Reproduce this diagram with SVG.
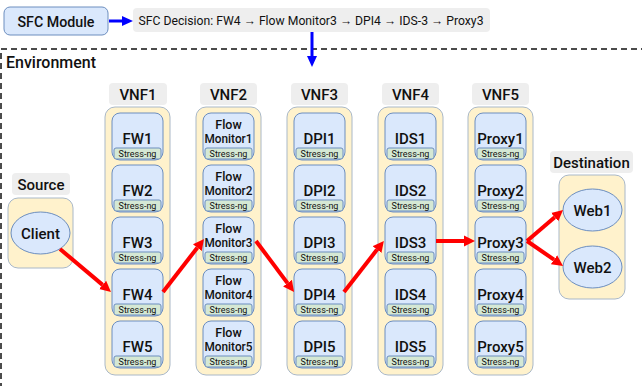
<svg xmlns="http://www.w3.org/2000/svg" width="642" height="386" viewBox="0 0 642 386">
<style>
text{font-family:Roboto,"Liberation Sans",Arial,sans-serif;font-weight:500;fill:#111;text-anchor:middle}
.lbl{fill:#eeeeee;stroke:none}
.cont{fill:#fff2cc;stroke:#a9b8c8;stroke-width:1}
.node{fill:#dae8fc;stroke:#6c8ebf;stroke-width:1}
.sng{fill:#d5e8d4;stroke:#6c8ebf;stroke-width:1}
.t15{font-size:15px}
.t13{font-size:12.5px}
.ts{font-size:9px;font-weight:400}
.red{stroke:#ff0000;stroke-width:4;fill:none;marker-end:url(#ra)}
.blue{stroke:#0000ff;stroke-width:3;fill:none;marker-end:url(#ba)}
</style>
<defs>
<marker id="ra" markerUnits="userSpaceOnUse" markerWidth="12" markerHeight="12" refX="0" refY="6" orient="auto"><path d="M0,0.5 L11,6 L0,11.5 z" fill="#ff0000"/></marker>
<marker id="ba" markerUnits="userSpaceOnUse" markerWidth="12" markerHeight="12" refX="0" refY="6" orient="auto"><path d="M0,1 L11,6 L0,11 z" fill="#0000ff"/></marker>
</defs>
<rect width="642" height="386" fill="#ffffff"/>

<g id="environment">
<rect x="1" y="49" width="660" height="360" fill="none" stroke="#111" stroke-width="1.5" stroke-dasharray="6,4"/>
<text x="6" y="68" style="font-size:17px;text-anchor:start" textLength="90" lengthAdjust="spacingAndGlyphs">Environment</text>
</g>

<g id="sfc-module">
<rect x="4" y="7" width="104" height="28" rx="6" fill="#dae8fc" stroke="#6c8ebf"/>
<text x="56" y="26.5" class="t15" textLength="77" lengthAdjust="spacingAndGlyphs">SFC Module</text>
</g>
<g id="sfc-decision">
<rect x="133" y="8" width="357" height="24" rx="4" class="lbl"/>
<text x="311" y="24.5" style="font-size:12.5px;font-weight:400" textLength="345" lengthAdjust="spacingAndGlyphs">SFC Decision: FW4 → Flow Monitor3 → DPI4 → IDS-3 → Proxy3</text>
</g>

<g id="source">
<rect x="12" y="173" width="58" height="22" rx="4" class="lbl"/>
<text x="41" y="190" class="t15">Source</text>
<rect x="8" y="198" width="65" height="70" rx="10" class="cont"/>
<ellipse cx="40.5" cy="233" rx="29.5" ry="21" class="node"/>
<text x="40.5" y="238.5" class="t15">Client</text>
</g>

<g id="destination">
<rect x="550" y="151" width="83" height="22" rx="4" class="lbl"/>
<text x="591.5" y="167.5" class="t15">Destination</text>
<rect x="559" y="175" width="66" height="124" rx="10" class="cont"/>
<ellipse cx="592.5" cy="210" rx="29.5" ry="21" class="node"/>
<text x="592.5" y="215.5" class="t15">Web1</text>
<ellipse cx="592.5" cy="267" rx="29.5" ry="21" class="node"/>
<text x="592.5" y="272.5" class="t15">Web2</text>
</g>

<g id="vnf1">
<rect x="109" y="83" width="58" height="22" rx="4" class="lbl"/>
<text x="138" y="99.5" class="t15">VNF1</text>
<rect x="105" y="107" width="65" height="268" rx="10" class="cont"/>
<g id="fw1"><rect x="112" y="113" width="51" height="47" rx="8" class="node"/><text x="137.5" y="144" class="t15">FW1</text><rect x="114" y="148" width="47" height="11" rx="2" class="sng"/><text x="137.5" y="156.8" class="ts">Stress-ng</text></g>
<g id="fw2"><rect x="112" y="165" width="51" height="47" rx="8" class="node"/><text x="137.5" y="196" class="t15">FW2</text><rect x="114" y="200" width="47" height="11" rx="2" class="sng"/><text x="137.5" y="208.8" class="ts">Stress-ng</text></g>
<g id="fw3"><rect x="112" y="217" width="51" height="47" rx="8" class="node"/><text x="137.5" y="248" class="t15">FW3</text><rect x="114" y="252" width="47" height="11" rx="2" class="sng"/><text x="137.5" y="260.8" class="ts">Stress-ng</text></g>
<g id="fw4"><rect x="112" y="269" width="51" height="47" rx="8" class="node"/><text x="137.5" y="300" class="t15">FW4</text><rect x="114" y="304" width="47" height="11" rx="2" class="sng"/><text x="137.5" y="312.8" class="ts">Stress-ng</text></g>
<g id="fw5"><rect x="112" y="321" width="51" height="47" rx="8" class="node"/><text x="137.5" y="352" class="t15">FW5</text><rect x="114" y="356" width="47" height="11" rx="2" class="sng"/><text x="137.5" y="364.8" class="ts">Stress-ng</text></g>
</g>

<g id="vnf2">
<rect x="200" y="83" width="57" height="22" rx="4" class="lbl"/>
<text x="228.5" y="99.5" class="t15">VNF2</text>
<rect x="196" y="107" width="65" height="268" rx="10" class="cont"/>
<g id="fm1"><rect x="203" y="113" width="51" height="47" rx="8" class="node"/><text x="228.5" y="129" class="t13">Flow</text><text x="228.5" y="142.5" class="t13" textLength="48" lengthAdjust="spacingAndGlyphs">Monitor1</text><rect x="205" y="148" width="47" height="11" rx="2" class="sng"/><text x="228.5" y="156.8" class="ts">Stress-ng</text></g>
<g id="fm2"><rect x="203" y="165" width="51" height="47" rx="8" class="node"/><text x="228.5" y="181" class="t13">Flow</text><text x="228.5" y="194.5" class="t13" textLength="48" lengthAdjust="spacingAndGlyphs">Monitor2</text><rect x="205" y="200" width="47" height="11" rx="2" class="sng"/><text x="228.5" y="208.8" class="ts">Stress-ng</text></g>
<g id="fm3"><rect x="203" y="217" width="51" height="47" rx="8" class="node"/><text x="228.5" y="233" class="t13">Flow</text><text x="228.5" y="246.5" class="t13" textLength="48" lengthAdjust="spacingAndGlyphs">Monitor3</text><rect x="205" y="252" width="47" height="11" rx="2" class="sng"/><text x="228.5" y="260.8" class="ts">Stress-ng</text></g>
<g id="fm4"><rect x="203" y="269" width="51" height="47" rx="8" class="node"/><text x="228.5" y="285" class="t13">Flow</text><text x="228.5" y="298.5" class="t13" textLength="48" lengthAdjust="spacingAndGlyphs">Monitor4</text><rect x="205" y="304" width="47" height="11" rx="2" class="sng"/><text x="228.5" y="312.8" class="ts">Stress-ng</text></g>
<g id="fm5"><rect x="203" y="321" width="51" height="47" rx="8" class="node"/><text x="228.5" y="337" class="t13">Flow</text><text x="228.5" y="350.5" class="t13" textLength="48" lengthAdjust="spacingAndGlyphs">Monitor5</text><rect x="205" y="356" width="47" height="11" rx="2" class="sng"/><text x="228.5" y="364.8" class="ts">Stress-ng</text></g>
</g>

<g id="vnf3">
<rect x="291" y="83" width="57" height="22" rx="4" class="lbl"/>
<text x="319.5" y="99.5" class="t15">VNF3</text>
<rect x="287" y="107" width="65" height="268" rx="10" class="cont"/>
<g id="dpi1"><rect x="294" y="113" width="51" height="47" rx="8" class="node"/><text x="319.5" y="144" class="t15">DPI1</text><rect x="296" y="148" width="47" height="11" rx="2" class="sng"/><text x="319.5" y="156.8" class="ts">Stress-ng</text></g>
<g id="dpi2"><rect x="294" y="165" width="51" height="47" rx="8" class="node"/><text x="319.5" y="196" class="t15">DPI2</text><rect x="296" y="200" width="47" height="11" rx="2" class="sng"/><text x="319.5" y="208.8" class="ts">Stress-ng</text></g>
<g id="dpi3"><rect x="294" y="217" width="51" height="47" rx="8" class="node"/><text x="319.5" y="248" class="t15">DPI3</text><rect x="296" y="252" width="47" height="11" rx="2" class="sng"/><text x="319.5" y="260.8" class="ts">Stress-ng</text></g>
<g id="dpi4"><rect x="294" y="269" width="51" height="47" rx="8" class="node"/><text x="319.5" y="300" class="t15">DPI4</text><rect x="296" y="304" width="47" height="11" rx="2" class="sng"/><text x="319.5" y="312.8" class="ts">Stress-ng</text></g>
<g id="dpi5"><rect x="294" y="321" width="51" height="47" rx="8" class="node"/><text x="319.5" y="352" class="t15">DPI5</text><rect x="296" y="356" width="47" height="11" rx="2" class="sng"/><text x="319.5" y="364.8" class="ts">Stress-ng</text></g>
</g>

<g id="vnf4">
<rect x="382" y="83" width="57" height="22" rx="4" class="lbl"/>
<text x="410.5" y="99.5" class="t15">VNF4</text>
<rect x="378" y="107" width="65" height="268" rx="10" class="cont"/>
<g id="ids1"><rect x="385" y="113" width="51" height="47" rx="8" class="node"/><text x="410.5" y="144" class="t15">IDS1</text><rect x="387" y="148" width="47" height="11" rx="2" class="sng"/><text x="410.5" y="156.8" class="ts">Stress-ng</text></g>
<g id="ids2"><rect x="385" y="165" width="51" height="47" rx="8" class="node"/><text x="410.5" y="196" class="t15">IDS2</text><rect x="387" y="200" width="47" height="11" rx="2" class="sng"/><text x="410.5" y="208.8" class="ts">Stress-ng</text></g>
<g id="ids3"><rect x="385" y="217" width="51" height="47" rx="8" class="node"/><text x="410.5" y="248" class="t15">IDS3</text><rect x="387" y="252" width="47" height="11" rx="2" class="sng"/><text x="410.5" y="260.8" class="ts">Stress-ng</text></g>
<g id="ids4"><rect x="385" y="269" width="51" height="47" rx="8" class="node"/><text x="410.5" y="300" class="t15">IDS4</text><rect x="387" y="304" width="47" height="11" rx="2" class="sng"/><text x="410.5" y="312.8" class="ts">Stress-ng</text></g>
<g id="ids5"><rect x="385" y="321" width="51" height="47" rx="8" class="node"/><text x="410.5" y="352" class="t15">IDS5</text><rect x="387" y="356" width="47" height="11" rx="2" class="sng"/><text x="410.5" y="364.8" class="ts">Stress-ng</text></g>
</g>

<g id="vnf5">
<rect x="472" y="83" width="57" height="22" rx="4" class="lbl"/>
<text x="500.5" y="99.5" class="t15">VNF5</text>
<rect x="468" y="107" width="65" height="268" rx="10" class="cont"/>
<g id="proxy1"><rect x="475" y="113" width="51" height="47" rx="8" class="node"/><text x="500.5" y="144" class="t15">Proxy1</text><rect x="477" y="148" width="47" height="11" rx="2" class="sng"/><text x="500.5" y="156.8" class="ts">Stress-ng</text></g>
<g id="proxy2"><rect x="475" y="165" width="51" height="47" rx="8" class="node"/><text x="500.5" y="196" class="t15">Proxy2</text><rect x="477" y="200" width="47" height="11" rx="2" class="sng"/><text x="500.5" y="208.8" class="ts">Stress-ng</text></g>
<g id="proxy3"><rect x="475" y="217" width="51" height="47" rx="8" class="node"/><text x="500.5" y="248" class="t15">Proxy3</text><rect x="477" y="252" width="47" height="11" rx="2" class="sng"/><text x="500.5" y="260.8" class="ts">Stress-ng</text></g>
<g id="proxy4"><rect x="475" y="269" width="51" height="47" rx="8" class="node"/><text x="500.5" y="300" class="t15">Proxy4</text><rect x="477" y="304" width="47" height="11" rx="2" class="sng"/><text x="500.5" y="312.8" class="ts">Stress-ng</text></g>
<g id="proxy5"><rect x="475" y="321" width="51" height="47" rx="8" class="node"/><text x="500.5" y="352" class="t15">Proxy5</text><rect x="477" y="356" width="47" height="11" rx="2" class="sng"/><text x="500.5" y="364.8" class="ts">Stress-ng</text></g>
</g>

<g id="connectors">
<line x1="109" y1="21" x2="122" y2="21" class="blue"/>
<line x1="312" y1="32" x2="312" y2="56" class="blue"/>
<line x1="60" y1="249" x2="102.6" y2="284.9" class="red"/>
<line x1="163" y1="292" x2="197.3" y2="247.7" class="red"/>
<line x1="256" y1="241" x2="287.5" y2="283.1" class="red"/>
<line x1="344" y1="292" x2="377.1" y2="249.6" class="red"/>
<line x1="436" y1="241" x2="464" y2="241" class="red"/>
<line x1="527" y1="241" x2="554.7" y2="217.2" class="red"/>
<line x1="527" y1="241" x2="554" y2="259.7" class="red"/>
</g>
</svg>
